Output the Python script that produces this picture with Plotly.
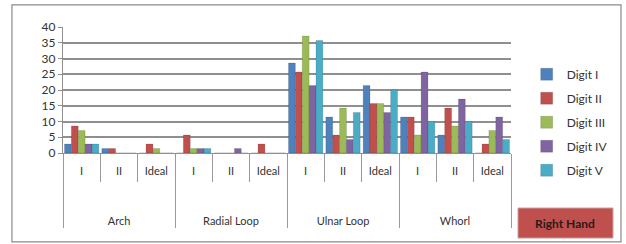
import plotly.graph_objects as go

groups = ["Arch", "Radial Loop", "Ulnar Loop", "Whorl"]
subs = ["I", "II", "Ideal"]
series_names = ["Digit I", "Digit II", "Digit III", "Digit IV", "Digit V"]
colors = ["#4F81BD", "#C0504D", "#9BBB59", "#8064A2", "#4BACC6"]

# values per category (Arch I, Arch II, Arch Ideal, Radial I, ...)
digit_1 = [2.86, 1.43, 0, 0, 0, 0, 28.57, 11.43, 21.43, 11.43, 5.71, 0]
digit_2 = [8.57, 1.43, 2.86, 5.71, 0, 2.86, 25.71, 5.71, 15.71, 11.43, 14.29, 2.86]
digit_3 = [7.14, 0, 1.43, 1.43, 0, 0, 37.14, 14.29, 15.71, 5.71, 8.57, 7.14]
digit_4 = [2.86, 0, 0, 1.43, 1.43, 0, 21.43, 4.29, 12.86, 25.71, 17.14, 11.43]
digit_5 = [2.86, 0, 0, 1.43, 0, 0, 35.71, 12.86, 20.0, 10.0, 10.0, 4.29]
series = [digit_1, digit_2, digit_3, digit_4, digit_5]

x_outer = []
x_inner = []
for g in groups:
    for s in subs:
        x_outer.append("<br><br><br>" + g)
        x_inner.append(s)

fig = go.Figure()
for name, vals, c in zip(series_names, series, colors):
    fig.add_trace(go.Bar(
        x=[x_outer, x_inner], y=vals, name=name, legendgroup=name,
        marker=dict(color=c, line=dict(color="rgba(0,0,0,0.25)", width=0.5)),
    ))

fig.update_layout(
    width=626, height=244,
    margin=dict(l=63, r=115, t=27, b=91, autoexpand=False),
    paper_bgcolor="white", plot_bgcolor="white",
    barmode="group", bargap=0.08, bargroupgap=0,
    font=dict(family="Lato, 'Open Sans', sans-serif", size=11, color="#333333"),
    showlegend=True,
    legend=dict(x=1.035, y=0.74, xanchor="left", yanchor="top",
                tracegroupgap=5, font=dict(size=12, color="#333333"),
                itemwidth=30, bgcolor="rgba(0,0,0,0)", maxheight=220),
    yaxis=dict(range=[0, 40], dtick=5, showgrid=True, gridcolor="#8f8f8f",
               gridwidth=1.5, showline=True, linecolor="#8f8f8f", linewidth=1.2,
               ticks="outside", ticklen=4, tickcolor="#8f8f8f", automargin=False,
               tickfont=dict(size=12, color="#333333"), zeroline=False),
    xaxis=dict(type="multicategory", showline=True, linecolor="#8f8f8f",
               linewidth=1.2, tickson="boundaries", ticks="outside", ticklen=28,
               tickcolor="#9a9a9a", showdividers=True, dividercolor="#9a9a9a",
               dividerwidth=1, automargin=False, ticklabelstandoff=8,
               tickfont=dict(size=11, color="#333333")),
)

# outer chart border
fig.add_shape(type="rect", xref="paper", yref="paper",
              x0=-0.114, x1=1.2455, y0=-0.706, y1=1.175,
              line=dict(color="#8a8a8a", width=1.2), fillcolor="rgba(0,0,0,0)")
# Right Hand label box
fig.add_shape(type="rect", xref="paper", yref="paper",
              x0=1.0156, x1=1.2277, y0=-0.675, y1=-0.4365,
              line=dict(color="#c9a3a2", width=1), fillcolor="#C0504D")
fig.add_annotation(xref="paper", yref="paper", x=1.1216, y=-0.556,
                   xanchor="center", yanchor="middle",
                   text="<b>Right Hand</b>", showarrow=False,
                   font=dict(size=12, color="#2a1a1a"))

fig.write_html("out.html", config={"displayModeBar": False},
               post_script="document.body.style.margin='0';document.body.style.overflow='hidden';")
